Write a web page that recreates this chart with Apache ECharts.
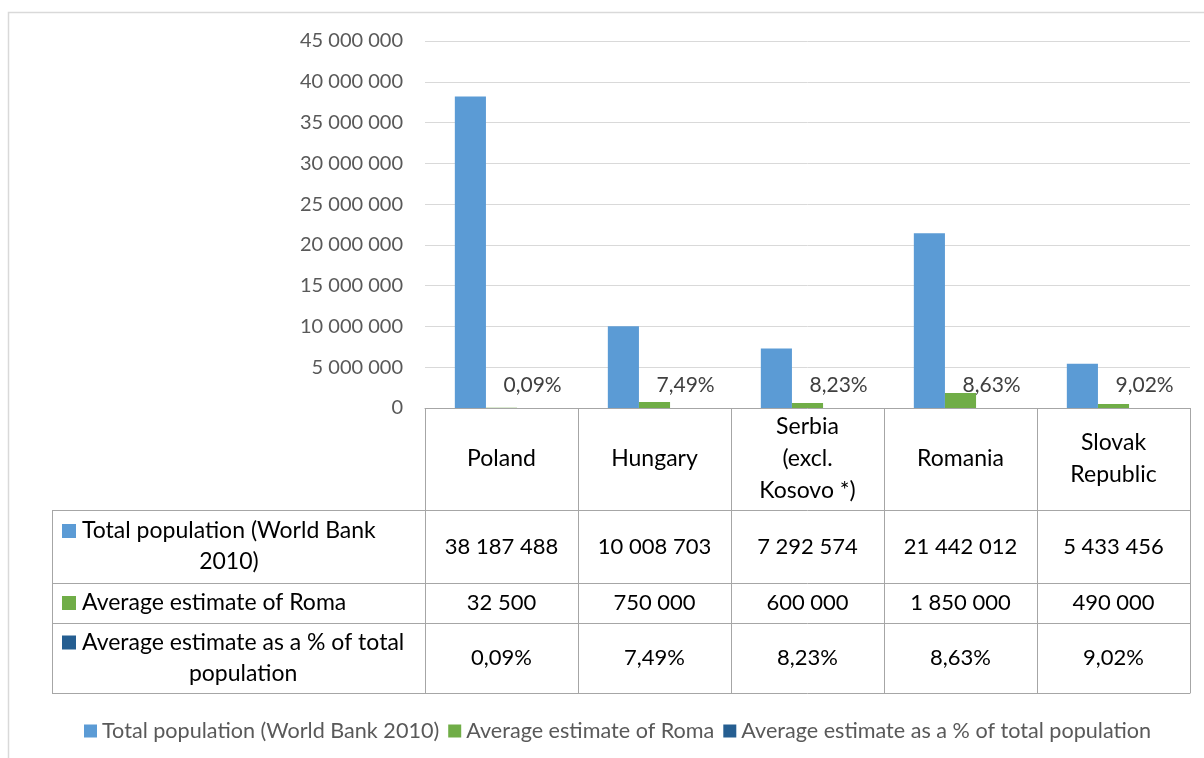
<!DOCTYPE html>
<html>
<head>
<meta charset="utf-8">
<script src="https://cdn.jsdelivr.net/npm/echarts@6/dist/echarts.min.js"></script>
<style>
  html, body { margin: 0; padding: 0; background: #fff; }
  #chart { width: 1204px; height: 758px; }
</style>
</head>
<body>
<div id="chart"></div>
<script>
// ---- data ----
const categories = ['Poland', 'Hungary', 'Serbia\n(excl.\nKosovo *)', 'Romania', 'Slovak\nRepublic'];
const totalPopulation = [38187488, 10008703, 7292574, 21442012, 5433456];
const romaEstimate = [32500, 750000, 600000, 1850000, 490000];
const romaShare = [0.09, 7.49, 8.23, 8.63, 9.02];
const seriesNames = [
  'Total population (World Bank 2010)',
  'Average estimate of Roma',
  'Average estimate as a % of total population'
];
const rowLabels = [
  'Total population (World Bank\n2010)',
  'Average estimate of Roma',
  'Average estimate as a % of total\npopulation'
];
const yMin = 0, yMax = 45000000, yStep = 5000000;

// ---- styling / layout ----
const colors = ['#5b9bd5', '#70ad47', '#255e91'];
const FONT = 'Lato';
const tableLine = '#a6a6a6';
const gridLeft = 425, gridRight = 14, gridTop = 41, gridBottom = 350;
const tableLeft = 52;
const headerH = 102;
const rowH = [73, 40, 70];
const labelFont = 23;   // row names and country names
const numberFont = 22;  // values inside the table

const fmtInt = n => String(n).replace(/\B(?=(\d{3})+(?!\d))/g, ' ');
const fmtPct = v => v.toFixed(2).replace('.', ',') + '%';
const rowFormatters = [
  (v, i) => fmtInt(totalPopulation[i]),
  (v, i) => fmtInt(romaEstimate[i]),
  (v, i) => fmtPct(romaShare[i])
];

const chart = echarts.init(document.getElementById('chart'));

// table rows are drawn as extra category axes stacked under the plot
const xAxes = [{
  type: 'category',
  data: categories,
  position: 'bottom',
  offset: 0,
  axisLine: { show: true, lineStyle: { color: tableLine, width: 1 } },
  axisTick: { show: true, length: headerH, lineStyle: { color: tableLine } },
  axisLabel: {
    interval: 0, margin: headerH / 2, verticalAlign: 'middle',
    fontFamily: FONT, fontSize: labelFont, lineHeight: 32, color: '#000'
  },
  splitLine: { show: false }
}];
let off = headerH;
rowH.forEach((h, r) => {
  xAxes.push({
    type: 'category',
    data: categories,
    position: 'bottom',
    offset: off,
    axisLine: { show: true, lineStyle: { color: tableLine, width: 1 } },
    axisTick: { show: true, length: h, lineStyle: { color: tableLine } },
    axisLabel: {
      interval: 0, margin: h / 2, verticalAlign: 'middle',
      fontFamily: FONT, fontSize: numberFont, color: '#000',
      formatter: rowFormatters[r]
    },
    splitLine: { show: false }
  });
  off += h;
});
xAxes.push({
  type: 'category',
  data: categories,
  position: 'bottom',
  offset: off,
  axisLine: { show: true, lineStyle: { color: tableLine, width: 1 } },
  axisTick: { show: false },
  axisLabel: { show: false },
  splitLine: { show: false }
});

// left column of the data table (legend keys + row names)
const tableTop = 758 - gridBottom + headerH; // 510
const measure = document.createElement('canvas').getContext('2d');
measure.font = labelFont + 'px ' + FONT;
const graphics = [
  {
    type: 'rect', silent: true,
    shape: { x: 8.5, y: 12.5, width: 1300, height: 900 },
    style: { fill: 'none', stroke: '#d9d9d9', lineWidth: 1.5 }
  }
];
let y = tableTop;
rowH.forEach((h, r) => {
  graphics.push({
    type: 'line', silent: true,
    shape: { x1: tableLeft, y1: y + 0.5, x2: gridLeft, y2: y + 0.5 },
    style: { stroke: tableLine, lineWidth: 1 }
  });
  const lines = rowLabels[r].split('\n');
  const lh = 31;
  const blockW = Math.max(...lines.map(l => measure.measureText(l).width));
  const textX = 82;
  const firstY = y + h / 2 - (lines.length - 1) * lh / 2;
  graphics.push({
    type: 'rect', silent: true,
    shape: { x: 62, y: firstY - 7, width: 14, height: 14 },
    style: { fill: colors[r] }
  });
  graphics.push({
    type: 'text', silent: true,
    x: textX + blockW / 2, y: y + h / 2,
    style: {
      text: rowLabels[r], align: 'center', verticalAlign: 'middle',
      fontFamily: FONT, fontSize: labelFont, lineHeight: lh, fill: '#000'
    }
  });
  y += h;
});
graphics.push({
  type: 'line', silent: true,
  shape: { x1: tableLeft, y1: y + 0.5, x2: gridLeft, y2: y + 0.5 },
  style: { stroke: tableLine, lineWidth: 1 }
});
graphics.push({
  type: 'line', silent: true,
  shape: { x1: tableLeft + 0.5, y1: tableTop, x2: tableLeft + 0.5, y2: y + 0.5 },
  style: { stroke: tableLine, lineWidth: 1 }
});

chart.setOption({
  animation: false,
  textStyle: { fontFamily: FONT },
  grid: { left: gridLeft, right: gridRight, top: gridTop, bottom: gridBottom, containLabel: false },
  legend: {
    data: seriesNames,
    left: 79, top: 715,
    icon: 'rect', itemWidth: 13, itemHeight: 13, itemGap: 9,
    textStyle: { fontFamily: FONT, fontSize: 21.6, color: '#595959' }
  },
  xAxis: xAxes,
  yAxis: {
    type: 'value',
    min: yMin, max: yMax, interval: yStep,
    axisLine: { show: false },
    axisTick: { show: false },
    splitLine: { lineStyle: { color: '#d9d9d9', width: 1 } },
    axisLabel: {
      margin: 22, fontFamily: FONT, fontSize: 20, color: '#595959',
      formatter: v => fmtInt(v)
    }
  },
  series: [
    {
      name: seriesNames[0], type: 'bar', data: totalPopulation,
      itemStyle: { color: colors[0] }, barGap: '0%', barCategoryGap: '39%'
    },
    {
      name: seriesNames[1], type: 'bar', data: romaEstimate,
      itemStyle: { color: colors[1] }, barGap: '0%', barCategoryGap: '39%'
    },
    {
      name: seriesNames[2], type: 'bar', data: romaShare,
      itemStyle: { color: colors[2] }, barGap: '0%', barCategoryGap: '39%',
      label: {
        show: true, position: 'top', distance: 12,
        fontFamily: FONT, fontSize: 21, color: '#404040',
        formatter: p => fmtPct(p.value)
      }
    }
  ],
  graphic: graphics
});
</script>
</body>
</html>
